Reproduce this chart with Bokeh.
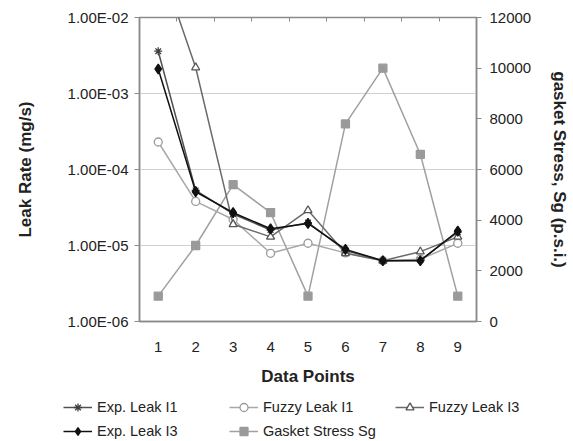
from bokeh.plotting import figure
from bokeh.models import (Range1d, LinearAxis, LinearScale, FixedTicker, Legend, LegendItem,
                          ColumnDataSource)
from bokeh.embed import file_html
from bokeh.resources import INLINE

points = [1, 2, 3, 4, 5, 6, 7, 8, 9]
exp_leak_l1 = [3.6e-3, 5.3e-5, 2.6e-5, 1.6e-5, 2.0e-5, 8.6e-6, 6.3e-6, 6.4e-6, 1.5e-5]
fuzzy_leak_l1 = [2.3e-4, 3.8e-5, 2.2e-5, 7.9e-6, 1.07e-5, 8.0e-6, 6.3e-6, 6.6e-6, 1.07e-5]
fuzzy_leak_l3 = [6.0e-2, 2.2e-3, 1.9e-5, 1.3e-5, 2.9e-5, 7.9e-6, 6.3e-6, 8.3e-6, 1.3e-5]
exp_leak_l3 = [2.1e-3, 5.1e-5, 2.7e-5, 1.66e-5, 1.95e-5, 8.9e-6, 6.3e-6, 6.3e-6, 1.55e-5]
gasket_stress = [1000, 3000, 5400, 4300, 1000, 7800, 10000, 6600, 1000]

left_ticks = [1e-6, 1e-5, 1e-4, 1e-3, 1e-2]
left_labels = ["1.00E-06", "1.00E-05", "1.00E-04", "1.00E-03", "1.00E-02"]
right_ticks = [0, 2000, 4000, 6000, 8000, 10000, 12000]
# legend order (Bokeh fills legend columns top-to-bottom)
legend_order = ["Exp. Leak I1", "Exp. Leak I3", "Fuzzy Leak I1", "Gasket Stress Sg", "Fuzzy Leak I3"]

FONT = "Liberation Sans"
TXT = "#222222"
GRAY_AX = "#8a8a8a"

styles = {
    "Exp. Leak I1": dict(col="e1", line="#505050", marker="asterisk", size=8, fill="#404040", mline="#404040"),
    "Fuzzy Leak I1": dict(col="f1", line="#a8a8a8", marker="circle", size=8, fill="white", mline="#9a9a9a"),
    "Fuzzy Leak I3": dict(col="f3", line="#6a6a6a", marker="triangle", size=8, fill="white", mline="#555555"),
    "Exp. Leak I3": dict(col="e3", line="#111111", marker="diamond", size=10, fill="#111111", mline="#111111"),
    "Gasket Stress Sg": dict(col="g", line="#a0a0a0", marker="square", size=8, fill="#9a9a9a", mline="#9a9a9a"),
}

p = figure(width=573, height=390, output_backend="svg", toolbar_location=None,
           y_axis_type="log", x_range=Range1d(0.5, 9.5), y_range=Range1d(1e-6, 1e-2),
           min_border_left=139, min_border_right=97, min_border_top=17,
           min_border_bottom=69)
p.background_fill_color = "white"
p.border_fill_color = "white"
p.outline_line_color = GRAY_AX
p.outline_line_width = 1.5
p.extra_y_ranges = {"stress": Range1d(0, 12000)}
p.extra_y_scales = {"stress": LinearScale()}

p.xgrid.grid_line_color = None
p.ygrid.grid_line_color = "#d0d0d0"
p.ygrid.grid_line_width = 1
p.ygrid.ticker = FixedTicker(ticks=left_ticks)

ya = p.yaxis[0]
ya.ticker = FixedTicker(ticks=left_ticks, minor_ticks=[])
ya.major_label_overrides = {t: l for t, l in zip(left_ticks, left_labels)}
ya.axis_label = "Leak Rate (mg/s)"

xa = p.xaxis[0]
xa.ticker = FixedTicker(ticks=points, minor_ticks=[])
xa.axis_label = "Data Points"
xa.major_tick_line_color = None

ra = LinearAxis(y_range_name="stress", ticker=FixedTicker(ticks=right_ticks, minor_ticks=[]),
                axis_label="gasket Stress, Sg (p.s.i.)")
p.add_layout(ra, "right")

top_ticks = [1.5, 2.5, 3.5, 4.5, 5.5, 6.5, 7.5, 8.5]
ta = LinearAxis(ticker=FixedTicker(ticks=top_ticks, minor_ticks=[]),
                major_label_overrides={t: "" for t in top_ticks},
                major_tick_in=4, major_tick_out=0, major_label_standoff=0,
                axis_line_color=None, major_tick_line_color=GRAY_AX)
p.add_layout(ta, "above")

for ax in [ya, xa, ra]:
    ax.axis_line_color = GRAY_AX
    ax.axis_line_width = 1.5
    ax.major_label_text_font = FONT
    ax.major_label_text_font_size = "15px"
    ax.major_label_text_color = TXT
    ax.axis_label_text_font = FONT
    ax.axis_label_text_font_size = "17px"
    ax.axis_label_text_font_style = "bold"
    ax.axis_label_text_color = TXT
    ax.minor_tick_line_color = None
for ax in [ya, ra]:
    ax.major_tick_line_color = GRAY_AX
    ax.major_tick_in = 0
    ax.major_tick_out = 5
xa.major_label_standoff = 14
xa.axis_label_standoff = 12
ya.major_label_standoff = 6
ya.axis_label_standoff = 30
ra.major_label_standoff = 8
ra.axis_label_standoff = 16

src = ColumnDataSource(dict(x=points, e1=exp_leak_l1, f1=fuzzy_leak_l1, f3=fuzzy_leak_l3,
                            e3=exp_leak_l3, g=gasket_stress))

def draw(fig, name, source, msize=None, **kw):
    s = styles[name]
    ln = fig.line("x", s["col"], source=source, line_color=s["line"], line_width=1.5, **kw)
    mk = fig.scatter("x", s["col"], source=source, marker=s["marker"],
                     size=msize if msize else s["size"],
                     fill_color=s["fill"], line_color=s["mline"], line_width=1.3, **kw)
    return ln, mk

draw(p, "Gasket Stress Sg", src, y_range_name="stress")
draw(p, "Fuzzy Leak I1", src)
draw(p, "Fuzzy Leak I3", src)
draw(p, "Exp. Leak I1", src)
draw(p, "Exp. Leak I3", src)

# legend strip below the chart, as a separate root (its copies of the series lie outside its view)
lg = figure(width=573, height=51, output_backend="svg", toolbar_location=None,
            x_range=Range1d(100, 200), y_range=Range1d(50000, 60000),
            x_axis_location=None, y_axis_location=None,
            min_border_left=0, min_border_right=0, min_border_top=0, min_border_bottom=0)
lg.grid.grid_line_color = None
lg.outline_line_color = None
lg.background_fill_color = "white"
lg.border_fill_color = "white"
items = []
for name in legend_order:
    ln, mk = draw(lg, name, src, msize=8 if name == "Exp. Leak I3" else 6)
    items.append(LegendItem(label=name, renderers=[ln, mk]))

legend = Legend(items=items, location=(63, 0), ncols=3)
legend.border_line_color = None
legend.background_fill_alpha = 0
legend.padding = 0
legend.margin = 0
legend.spacing = 4
legend.glyph_width = 29
legend.glyph_height = 20
legend.label_standoff = 5
legend.label_width = 128
legend.label_text_font = FONT
legend.label_text_font_size = "14.5px"
legend.label_text_color = TXT
lg.add_layout(legend, "center")

open("out.html", "w").write(file_html([p, lg], INLINE))
